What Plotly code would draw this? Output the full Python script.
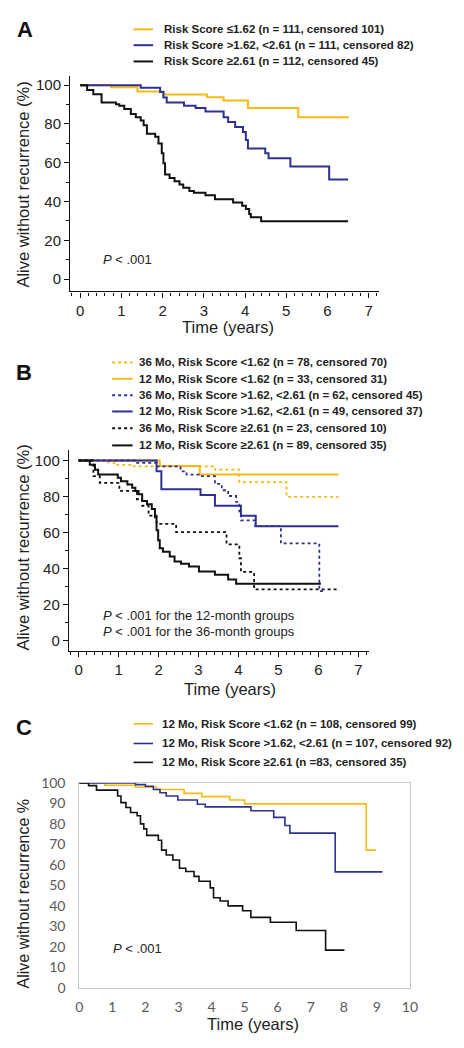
import plotly.graph_objects as go

W, H = 464, 1048

# ---------------- Panel A data ----------------
a_low_t = [0, 0.75, 1.39, 2.02, 3.08, 3.48, 4.07, 5.29, 6.52]
a_low_v = [100, 99.0, 96.8, 95.2, 93.8, 92.1, 88.2, 83.5, 83.5]
a_mid_t = [0, 1.47, 1.94, 2.02, 2.10, 2.52, 2.80, 3.04, 3.48, 3.59, 3.76, 3.95, 4.02, 4.07, 4.49, 4.57, 5.10, 6.04, 6.5]
a_mid_v = [100, 98.7, 96.5, 93.7, 91.1, 89.4, 88.2, 86.5, 83.5, 81.0, 78.4, 75.9, 71.7, 67.4, 64.9, 62.3, 58.1, 51.4, 51.4]
a_high_t = [0, 0.17, 0.32, 0.52, 0.87, 0.95, 1.07, 1.23, 1.35, 1.47, 1.54, 1.62, 1.82, 1.90, 1.98, 2.02, 2.06,
            2.17, 2.29, 2.41, 2.50, 2.65, 2.76, 3.04, 3.27, 3.71, 3.93, 4.02, 4.10, 4.14, 4.39, 6.5]
a_high_v = [100, 97.5, 95.3, 91.1, 90.2, 89.4, 87.7, 85.2, 83.5, 81.8, 79.3, 75.0, 73.4, 69.9, 64.9, 59.8, 53.9,
            52.2, 50.5, 48.8, 47.1, 45.5, 44.6, 43.2, 41.2, 39.5, 37.8, 36.1, 33.6, 31.9, 29.8, 29.8]
a_labels = ["Risk Score ≤1.62 (n = 111, censored 101)",
            "Risk Score &gt;1.62, &lt;2.61 (n = 111, censored 82)",
            "Risk Score ≥2.61 (n = 112, censored 45)"]

# ---------------- Panel B data ----------------
b36_low_t = [0, 0.73, 0.89, 1.38, 3.41, 4.02, 5.20, 6.5]
b36_low_v = [100, 98.9, 97.6, 96.7, 94.9, 88.0, 79.8, 79.8]
b12_low_t = [0, 2.03, 3.03, 6.5]
b12_low_v = [100, 96.9, 92.2, 92.2]
b36_mid_t = [0, 1.40, 1.95, 2.55, 2.70, 3.05, 3.41, 3.58, 3.74, 3.94, 4.02, 4.06, 4.42, 5.06, 6.02, 6.12]
b36_mid_v = [100, 98.7, 96.7, 94.0, 92.2, 91.3, 87.0, 83.5, 80.3, 77.0, 71.8, 66.8, 63.6, 54.0, 27.6, 27.6]
b12_mid_t = [0, 1.95, 2.07, 3.05, 3.41, 4.06, 4.43, 6.5]
b12_mid_v = [100, 94.0, 84.0, 80.9, 74.9, 69.4, 63.6, 63.6]
b36_high_t = [0, 0.37, 0.53, 1.02, 1.46, 1.59, 1.75, 1.95, 2.44, 3.70, 4.02, 4.06, 4.39, 6.5]
b36_high_v = [100, 91.3, 87.6, 83.1, 78.5, 74.9, 69.4, 64.9, 60.3, 53.5, 45.8, 38.2, 28.5, 28.5]
b12_high_t = [0, 0.28, 0.41, 0.49, 0.98, 1.06, 1.22, 1.34, 1.42, 1.50, 1.59, 1.71, 1.83, 1.91, 1.95, 1.99,
              2.03, 2.11, 2.28, 2.40, 2.56, 2.76, 3.01, 3.41, 3.74, 3.94, 6.06]
b12_high_v = [100, 97.6, 94.9, 92.2, 90.4, 88.5, 86.7, 84.9, 83.1, 81.3, 77.6, 75.8, 73.1, 68.5, 61.3, 55.8,
              51.3, 49.4, 46.7, 44.0, 42.7, 41.2, 38.5, 36.7, 34.0, 31.6, 31.6]
b_labels = ["36 Mo, Risk Score &lt;1.62 (n = 78, censored 70)",
            "12 Mo, Risk Score &lt;1.62 (n = 33, censored 31)",
            "36 Mo, Risk Score &gt;1.62, &lt;2.61 (n = 62, censored 45)",
            "12 Mo, Risk Score &gt;1.62, &lt;2.61 (n = 49, censored 37)",
            "36 Mo, Risk Score ≥2.61 (n = 23, censored 10)",
            "12 Mo, Risk Score ≥2.61 (n = 89, censored 35)"]

# ---------------- Panel C data ----------------
c_low_t = [0, 0.77, 1.70, 2.34, 3.17, 3.71, 4.55, 5.00, 8.68, 8.97]
c_low_v = [100, 98.9, 97.9, 96.8, 94.9, 93.3, 91.7, 89.8, 67.2, 67.2]
c_mid_t = [0, 1.70, 2.00, 2.24, 2.44, 2.63, 2.98, 3.57, 3.81, 5.19, 5.88, 6.22, 6.37, 7.74, 9.17]
c_mid_v = [100, 99.2, 98.4, 96.8, 95.2, 93.6, 91.7, 89.6, 88.3, 86.4, 83.2, 79.2, 75.5, 56.6, 56.6]
c_high_t = [0, 0.28, 0.52, 1.16, 1.26, 1.41, 1.55, 1.75, 1.85, 1.95, 2.04, 2.39, 2.49, 2.63, 2.83, 3.03,
            3.22, 3.47, 3.62, 3.96, 4.06, 4.26, 4.50, 4.94, 5.19, 5.78, 6.56, 7.45, 8.02]
c_high_v = [100, 98.7, 96.5, 93.6, 90.4, 88.0, 85.6, 84.0, 80.0, 77.6, 74.4, 72.0, 67.2, 64.8, 62.4, 58.4,
            56.8, 54.4, 52.0, 48.8, 44.0, 42.4, 40.0, 37.6, 34.4, 32.0, 28.0, 18.4, 18.4]
c_labels = ["12 Mo, Risk Score &lt;1.62 (n = 108, censored 99)",
            "12 Mo, Risk Score &gt;1.62, &lt;2.61 (n = 107, censored 92)",
            "12 Mo, Risk Score ≥2.61 (n =83, censored 35)"]

YEL = "#f6b915"
BLU = "#2e3192"
BLK = "#111111"
FONT = "Liberation Sans"


def px(x):
    return x / W


def py(y):
    return 1 - y / H


fig = go.Figure()


def add(t, v, color, dash, width, xa, ya, name):
    fig.add_trace(go.Scatter(x=t, y=v, mode="lines", line=dict(color=color, dash=dash, width=width, shape="hv"),
                             xaxis=xa, yaxis=ya, name=name, showlegend=False, hoverinfo="skip"))


# Panel A
add(a_low_t, a_low_v, YEL, "solid", 2, "x", "y", a_labels[0])
add(a_mid_t, a_mid_v, BLU, "solid", 2, "x", "y", a_labels[1])
add(a_high_t, a_high_v, BLK, "solid", 2, "x", "y", a_labels[2])

# Panel B
add(b36_low_t, b36_low_v, YEL, "dot", 1.8, "x2", "y2", b_labels[0])
add(b12_low_t, b12_low_v, YEL, "solid", 2, "x2", "y2", b_labels[1])
add(b36_mid_t, b36_mid_v, BLU, "dot", 1.8, "x2", "y2", b_labels[2])
add(b12_mid_t, b12_mid_v, BLU, "solid", 2, "x2", "y2", b_labels[3])
add(b36_high_t, b36_high_v, BLK, "dot", 1.8, "x2", "y2", b_labels[4])
add(b12_high_t, b12_high_v, BLK, "solid", 2, "x2", "y2", b_labels[5])

# Panel C
add(c_low_t, c_low_v, YEL, "solid", 1.6, "x3", "y3", c_labels[0])
add(c_mid_t, c_mid_v, BLU, "solid", 1.6, "x3", "y3", c_labels[1])
add(c_high_t, c_high_v, BLK, "solid", 1.6, "x3", "y3", c_labels[2])

tickfont = dict(family=FONT, size=15, color="#222222")
axis_common = dict(showline=True, linecolor="#111111", linewidth=1.4, ticks="outside", ticklen=5,
                   tickwidth=1.3, tickcolor="#111111", showgrid=False, zeroline=False, tickfont=tickfont,
                   fixedrange=True)

fig.update_layout(
    width=W, height=H, autosize=False, margin=dict(l=0, r=0, t=0, b=0),
    paper_bgcolor="white", plot_bgcolor="white", showlegend=False,
    xaxis=dict(domain=[px(68), px(385)], range=[-0.24, 7.25], anchor="y", dtick=1, tick0=0,
               minor=dict(dtick=0.2, ticklen=3, ticks="outside", tickcolor="#111111", tickwidth=1),
               **axis_common),
    yaxis=dict(domain=[py(287), py(68)], range=[-6.3, 104.8], anchor="x", dtick=20, tick0=0,
               minor=dict(dtick=10, ticklen=3, ticks="outside", tickcolor="#111111", tickwidth=1),
               **axis_common),
    xaxis2=dict(domain=[px(66.7), px(375)], range=[-0.24, 7.27], anchor="y2", dtick=1, tick0=0,
                minor=dict(dtick=0.2, ticklen=3, ticks="outside", tickcolor="#111111", tickwidth=1),
                **axis_common),
    yaxis2=dict(domain=[py(652.7), py(448.3)], range=[-5.7, 105.8], anchor="x2", dtick=20, tick0=0,
                minor=dict(dtick=10, ticklen=3, ticks="outside", tickcolor="#111111", tickwidth=1),
                **axis_common),
    xaxis3=dict(domain=[px(77.3), px(416.7)], range=[0, 10], anchor="y3", dtick=1, tick0=0,
                showline=True, mirror=True, linecolor="#c8c8c8", linewidth=1, ticks="", showgrid=False,
                zeroline=False, ticklabelstandoff=6, fixedrange=True,
                tickfont=dict(family="Lato", size=14, color="#595959")),
    yaxis3=dict(domain=[py(995), py(786.7)], range=[0, 100], anchor="x3", dtick=10, tick0=0,
                showline=True, mirror=True, linecolor="#c8c8c8", linewidth=1, ticks="", showgrid=False,
                zeroline=False, ticklabelstandoff=10, fixedrange=True,
                tickfont=dict(family="Lato", size=14, color="#595959")),
)

ann = []
shapes = []


def text(x, y, s, size, bold=False, anchor="left", angle=0, color="#222222", family=FONT):
    ann.append(dict(xref="paper", yref="paper", x=px(x), y=py(y), text=s, showarrow=False,
                    xanchor=anchor, yanchor="middle", textangle=angle,
                    font=dict(family=family, size=size, color=color,
                              weight="bold" if bold else "normal")))


def legend_rows(labels, colors, dashes, rows, x0, x1, xt, width=2):
    for lab, col, dsh, yy in zip(labels, colors, dashes, rows):
        shapes.append(dict(type="line", xref="paper", yref="paper", x0=px(x0), x1=px(x1), y0=py(yy), y1=py(yy),
                           line=dict(color=col, width=width, dash=dsh)))
        text(xt, yy, lab, 11.5, bold=True)


# Panel letters
text(21.5, 21, "A", 22, bold=True, anchor="center", color="#111111")
text(21, 369.5, "B", 22, bold=True, anchor="center", color="#111111")
text(21, 730, "C", 22, bold=True, anchor="center", color="#111111")

# Legends
legend_rows(a_labels, [YEL, BLU, BLK], ["solid"] * 3, [20.7, 36.8, 53.3], 133, 153, 162.5)
legend_rows(b_labels, [YEL, YEL, BLU, BLU, BLK, BLK], ["dot", "solid"] * 3,
            [359.3, 375.9, 392.5, 409.1, 426.2, 443.6], 111, 132, 136.5)
legend_rows(c_labels, [YEL, BLU, BLK], ["solid"] * 3, [726.6, 746.6, 765.8], 133, 153, 160, width=1.6)

# Axis titles
text(230, 323, "Time (years)", 16.5, anchor="center")
text(20, 178, "Alive without recurrence (%)", 16.5, anchor="center", angle=-90)
text(232, 691, "Time (years)", 16.5, anchor="center")
text(20, 547, "Alive without recurrence (%)", 16.5, anchor="center", angle=-90)
text(255.5, 1031.5, "Time (years)", 16.5, anchor="center")
text(19.5, 899, "Alive without recurrence %", 16, anchor="center", angle=-90)

# P values
text(100, 255, "<i>P</i> &lt; .001", 13)
text(100, 617, "<i>P</i> &lt; .001 for the 12-month groups", 13)
text(100, 633, "<i>P</i> &lt; .001 for the 36-month groups", 13)
text(110, 955, "<i>P</i> &lt; .001", 13)

fig.update_layout(annotations=ann, shapes=shapes)
fig.write_html("out.html", config={"displayModeBar": False},
               post_script="document.body.style.margin='0';document.body.style.overflow='hidden';")
